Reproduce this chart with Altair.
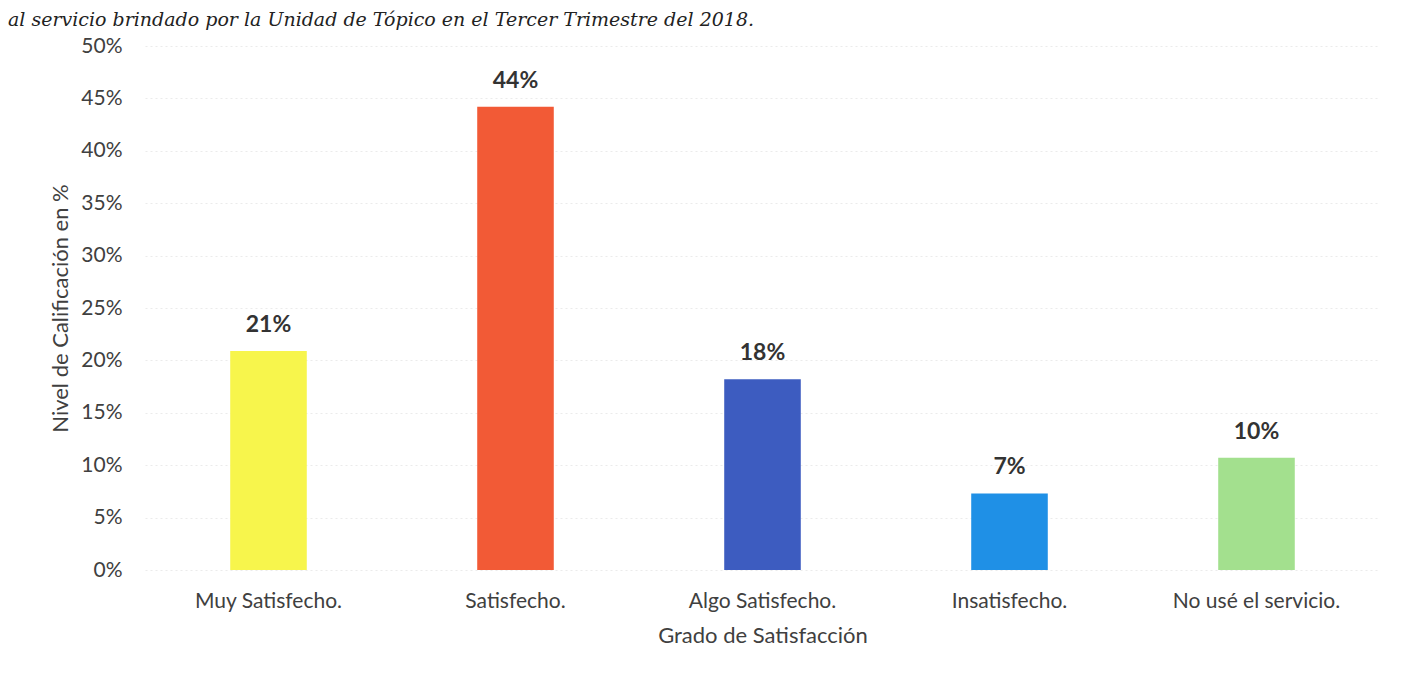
import altair as alt
import pandas as pd

categorias = ["Muy Satisfecho.", "Satisfecho.", "Algo Satisfecho.", "Insatisfecho.", "No usé el servicio."]
valores = [0.209, 0.442, 0.182, 0.073, 0.107]
etiquetas = ["21%", "44%", "18%", "7%", "10%"]
colores = ["#f7f54c", "#f25a36", "#3d5cc0", "#1f90e6", "#a3e08e"]
titulo = "al servicio brindado por la Unidad de Tópico en el Tercer Trimestre del 2018."

df = pd.DataFrame({"cat": categorias, "val": valores, "lab": etiquetas, "col": colores})

FONT = "Lato"
GRAY = "#404040"

x = alt.X("cat:N", sort=categorias, title="Grado de Satisfacción",
          scale=alt.Scale(paddingInner=0.69, paddingOuter=0.345),
          axis=alt.Axis(labelAngle=0, labelFontSize=21, labelColor=GRAY, labelFont=FONT,
                        titleFont=FONT, titleFontSize=22, titleColor=GRAY, titleFontWeight="normal",
                        ticks=False, domain=False, labelPadding=20, titlePadding=14))
y = alt.Y("val:Q", title="Nivel de Calificación en %",
          scale=alt.Scale(domain=[0, 0.5]),
          axis=alt.Axis(format=".0%", values=[i * 0.05 for i in range(11)], labelFontSize=21,
                        labelColor=GRAY, labelFont=FONT, titleFont=FONT, titleFontSize=22,
                        titleColor=GRAY, titleFontWeight="normal", ticks=False, domain=False,
                        labelPadding=23, titlePadding=8, gridColor="#ebebeb", gridDash=[2, 3]))

bars = alt.Chart(df).mark_bar().encode(
    x=x, y=y, color=alt.Color("col:N", scale=None)
)
text = alt.Chart(df).mark_text(dy=-26, fontSize=23, fontWeight="bold", color="#333333", font=FONT).encode(
    x=alt.X("cat:N", sort=categorias), y="val:Q", text="lab:N"
)
title = alt.Chart(pd.DataFrame({"t": [titulo]})).mark_text(
    align="left", baseline="middle", fontSize=19, fontStyle="italic", font="DejaVu Serif", color="#222222"
).encode(x=alt.value(-137), y=alt.value(-26), text="t:N")

chart = alt.layer(bars, text, title).properties(
    width=1235, height=524,
    autosize=alt.AutoSizeParams(type="none"),
    padding={"left": 137, "top": 38, "right": 20, "bottom": 100},
).configure(background="white").configure_view(stroke=None)

chart.save("out.html", embed_options={"renderer": "svg", "actions": False})
